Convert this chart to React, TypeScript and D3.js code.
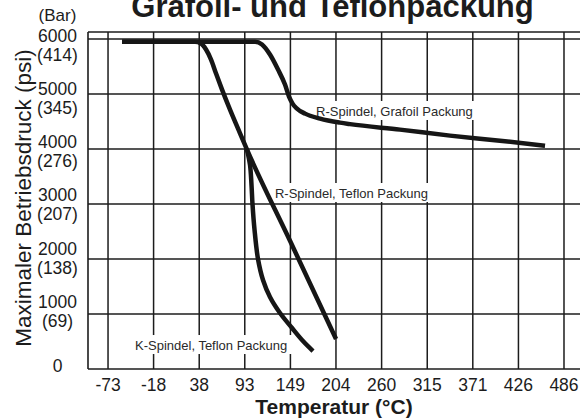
import * as d3 from "d3";

const WIDTH = 580;
const HEIGHT = 419;
const FONT = "'Liberation Sans', Arial, sans-serif";
const INK = "#1c1c1c";

// x axis: °C labels sit on an evenly spaced °F grid (-100..900 °F)
const xTickValues = [-73.3, -17.8, 37.8, 93.3, 148.9, 204.4, 260, 315.6, 371.1, 426.7, 482.2];
const xTickLabels = ["-73", "-18", "38", "93", "149", "204", "260", "315", "371", "426", "486"];

// y axis: psi with bar in brackets
const psiTicks = [0, 1000, 2000, 3000, 4000, 5000, 6000];
const barLabels = ["", "(69)", "(138)", "(207)", "(276)", "(345)", "(414)"];

// R-Spindel, Grafoil Packung
const grafoilTemp = [-56.2, 105.8, 114.3, 124.0, 133.8, 142.3, 147.2, 151.5, 156.9, 166.7, 185.0, 209.3, 221.5, 282.4, 343.3, 404.2, 459.1];
const grafoilPsi = [5950, 5950, 5900, 5717, 5444, 5171, 4953, 4825, 4734, 4643, 4552, 4479, 4452, 4352, 4243, 4151, 4060];

// R-Spindel, Teflon Packung
const rTeflonTemp = [-56.2, 32.7, 40.0, 46.1, 52.2, 58.3, 65.6, 75.3, 85.1, 96.0, 148.4, 204.5];
const rTeflonPsi = [5950, 5950, 5918, 5808, 5626, 5371, 5080, 4716, 4370, 3988, 2331, 546];

// K-Spindel, Teflon Packung
const kTeflonTemp = [96.0, 99.7, 101.5, 102.7, 105.2, 109.4, 115.5, 124.0, 136.2, 150.9, 164.2, 176.4];
const kTeflonPsi = [3988, 3709, 3345, 3000, 2527, 2000, 1618, 1309, 1018, 745, 509, 327];

const annotations = [
  { text: "R-Spindel, Grafoil Packung", temp: 180.1, psi: 4600, w: 160 },
  { text: "R-Spindel, Teflon Packung", temp: 130.1, psi: 3109, w: 154 },
  { text: "K-Spindel, Teflon Packung", temp: -40.4, psi: 345, w: 154 },
];

const zip = (xs: number[], ys: number[]) => xs.map((x, i) => [x, ys[i]] as [number, number]);

export default function App() {
  const xScale = d3.scaleLinear().domain([-97.7, 501.7]).range([88, 580]);
  const yScale = d3.scaleLinear().domain([0, 6127]).range([369, 32]);
  // the printed tick labels are spaced a little tighter than the grid
  const labelScale = d3.scaleLinear().domain([1000, 6000]).range([308, 41.7]);

  const smooth = d3
    .line<[number, number]>()
    .x((d) => xScale(d[0]))
    .y((d) => yScale(d[1]))
    .curve(d3.curveMonotoneX);
  const bent = d3
    .line<[number, number]>()
    .x((d) => xScale(d[0]))
    .y((d) => yScale(d[1]))
    .curve(d3.curveCatmullRom.alpha(0.5));

  const paths = [
    smooth(zip(grafoilTemp, grafoilPsi)),
    smooth(zip(rTeflonTemp, rTeflonPsi)),
    bent(zip(kTeflonTemp, kTeflonPsi)),
  ];

  const [x0, x1] = xScale.range();
  const [yBottom, yTop] = yScale.range();

  return (
    <svg
      width={WIDTH}
      height={HEIGHT}
      style={{ position: "absolute", left: 0, top: 0, background: "#fff" }}
      fontFamily={FONT}
    >
      <rect width={WIDTH} height={HEIGHT} fill="#fff" />

      {/* grid */}
      {xTickValues.map((v, i) => (
        <line key={"vx" + i} x1={xScale(v)} x2={xScale(v)} y1={yTop} y2={yBottom} stroke={INK} strokeWidth={1.5} />
      ))}
      {psiTicks.slice(1).map((v, i) => (
        <line key={"hy" + i} x1={x0} x2={x1} y1={yScale(v)} y2={yScale(v)} stroke={INK} strokeWidth={1.5} />
      ))}

      {/* frame */}
      <line x1={x0} x2={x0} y1={yTop} y2={yBottom} stroke={INK} strokeWidth={1.6} />
      <line x1={x0} x2={x1} y1={yTop} y2={yTop} stroke={INK} strokeWidth={1.6} />
      <line x1={x0} x2={x1} y1={yBottom} y2={yBottom} stroke={INK} strokeWidth={1.6} />

      {/* label boxes mask the grid */}
      {annotations.map((a, i) => (
        <g key={"ann" + i}>
          <rect x={xScale(a.temp) - 3} y={yScale(a.psi) - 15} width={a.w + 6} height={19} fill="#fff" />
          <text x={xScale(a.temp)} y={yScale(a.psi)} fontSize={13} fill="#2a2a2a">
            {a.text}
          </text>
        </g>
      ))}

      {/* curves */}
      {paths.map((d, i) => (
        <path key={"s" + i} d={d || ""} fill="none" stroke="#161616" strokeWidth={4.5} strokeLinecap="butt" strokeLinejoin="round" />
      ))}

      {/* x tick labels */}
      {xTickValues.map((v, i) => (
        <text key={"xl" + i} x={xScale(v)} y={391} textAnchor="middle" fontSize={17.5} fill={INK}>
          {xTickLabels[i]}
        </text>
      ))}

      {/* y tick labels */}
      <text x={57.5} y={21} textAnchor="middle" fontSize={17} fill={INK}>
        (Bar)
      </text>
      {psiTicks.map((v, i) => (
        <g key={"yl" + i}>
          <text x={57.5} y={v === 0 ? yScale(0) + 3 : labelScale(v)} textAnchor="middle" fontSize={17.5} fill={INK}>
            {v}
          </text>
          {barLabels[i] && (
            <text x={57.5} y={labelScale(v) + 19} textAnchor="middle" fontSize={17.5} fill={INK}>
              {barLabels[i]}
            </text>
          )}
        </g>
      ))}

      {/* titles */}
      <text x={332.5} y={17} textAnchor="middle" fontSize={31} fontWeight="bold" fill={INK}>
        Grafoil- und Teflonpackung
      </text>
      <text x={334} y={414} textAnchor="middle" fontSize={21} fontWeight="bold" fill={INK}>
        Temperatur (°C)
      </text>
      <text
        transform={`translate(31,198) rotate(-90)`}
        textAnchor="middle"
        fontSize={22.5}
        fill={INK}
      >
        Maximaler Betriebsdruck (psi)
      </text>
    </svg>
  );
}
